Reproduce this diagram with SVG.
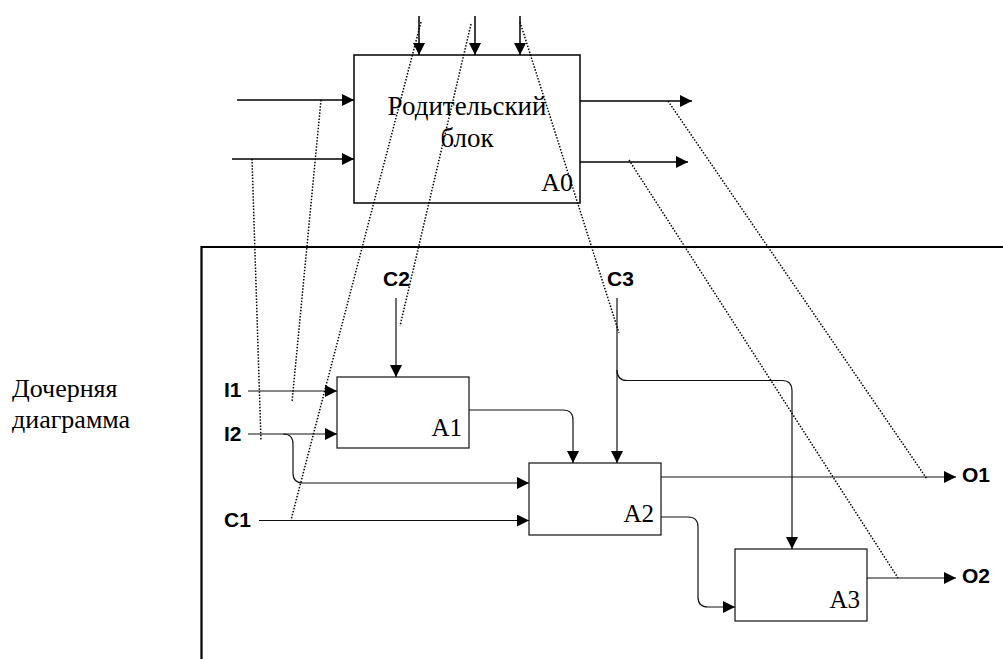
<svg xmlns="http://www.w3.org/2000/svg" width="1003" height="659" viewBox="0 0 1003 659">
<style>
.box{fill:#fff;stroke:#000;stroke-width:1.5}
.cbox{fill:#fff;stroke:#222;stroke-width:1.3}
.ln{fill:none;stroke:#000;stroke-width:1.5}
.cl{fill:none;stroke:#111;stroke-width:1.2}
.dot{fill:none;stroke:#000;stroke-width:1.5;stroke-dasharray:1.5 1.6}
.frame{fill:none;stroke:#000;stroke-width:2.2}
.tr{font-family:"Liberation Serif","Times New Roman",serif;font-size:26px;fill:#000}
.tp{font-family:"Liberation Serif","Times New Roman",serif;font-size:27px;fill:#000}
.ta{font-family:"Liberation Serif","Times New Roman",serif;font-size:25px;fill:#000}
.lb{font-family:"Liberation Sans",Arial,sans-serif;font-size:21px;font-weight:bold;fill:#000}
</style>
<defs>
<marker id="ah" markerUnits="userSpaceOnUse" markerWidth="13" markerHeight="13" refX="12" refY="6" orient="auto">
<path d="M0,0 L12,6 L0,12 z" fill="#000"/>
</marker>
</defs>

<path class="frame" d="M1003,247 L201.5,247 L201.5,659"/>
<text class="tr" x="12" y="397">Дочерняя</text>
<text class="tr" x="12" y="428">диаграмма</text>

<g id="A0">
<rect class="box" x="354" y="55" width="226" height="148"/>
<text class="tp" x="467" y="115" text-anchor="middle">Родительский</text>
<text class="tp" x="467" y="147" text-anchor="middle">блок</text>
<text class="tr" x="573" y="191" text-anchor="end">A0</text>
</g>

<g id="A1">
<rect class="cbox" x="337" y="377" width="132" height="71"/>
<text class="ta" x="462" y="436" text-anchor="end">A1</text>
</g>
<g id="A2">
<rect class="cbox" x="529" y="463" width="132" height="72"/>
<text class="ta" x="654" y="522" text-anchor="end">A2</text>
</g>
<g id="A3">
<rect class="cbox" x="735" y="549" width="132" height="72"/>
<text class="ta" x="860" y="608" text-anchor="end">A3</text>
</g>

<g id="labels">
<text class="lb" x="383" y="286">C2</text>
<text class="lb" x="607" y="286">C3</text>
<text class="lb" x="224" y="397">I1</text>
<text class="lb" x="224" y="441">I2</text>
<text class="lb" x="224" y="527">C1</text>
<text class="lb" x="962" y="482">O1</text>
<text class="lb" x="962" y="583">O2</text>
</g>

<g id="connectors">
<path class="ln" d="M419,16 L419,55" marker-end="url(#ah)"/>
<path class="ln" d="M475,16 L475,55" marker-end="url(#ah)"/>
<path class="ln" d="M520,16 L520,55" marker-end="url(#ah)"/>
<path class="ln" d="M237,100 L354,100" marker-end="url(#ah)"/>
<path class="ln" d="M232,159 L354,159" marker-end="url(#ah)"/>
<path class="ln" d="M580,101 L692,101" marker-end="url(#ah)"/>
<path class="ln" d="M580,162 L688,162" marker-end="url(#ah)"/>

<path class="cl" d="M396,298 L396,377" marker-end="url(#ah)"/>
<path class="cl" d="M617,298 L617,463" marker-end="url(#ah)"/>
<path class="cl" d="M617,370 Q617,380.5 627,380.5 L782,380.5 Q792,380.5 792,391 L792,549" marker-end="url(#ah)"/>
<path class="cl" d="M248,391 L337,391" marker-end="url(#ah)"/>
<path class="cl" d="M248,434 L337,434" marker-end="url(#ah)"/>
<path class="cl" d="M283,434 Q293,434 293,444 L293,473 Q293,483 303,483 L529,483" marker-end="url(#ah)"/>
<path class="cl" d="M259,520.5 L529,520.5" marker-end="url(#ah)"/>
<path class="cl" d="M469,410 L563,410 Q573,410 573,420 L573,463" marker-end="url(#ah)"/>
<path class="cl" d="M661,477 L956,477" marker-end="url(#ah)"/>
<path class="cl" d="M661,517 L688,517 Q698,517 698,527 L698,597 Q698,607 708,607 L735,607" marker-end="url(#ah)"/>
<path class="cl" d="M867,578 L956,578" marker-end="url(#ah)"/>

<path class="dot" d="M421,22 L291,520"/>
<path class="dot" d="M471,24 L400,326"/>
<path class="dot" d="M520,22 L619,333"/>
<path class="dot" d="M321,100 L292,402"/>
<path class="dot" d="M252,159 L261,441"/>
<path class="dot" d="M668,101 L927,479"/>
<path class="dot" d="M629,160 L898,578"/>
</g>
</svg>
